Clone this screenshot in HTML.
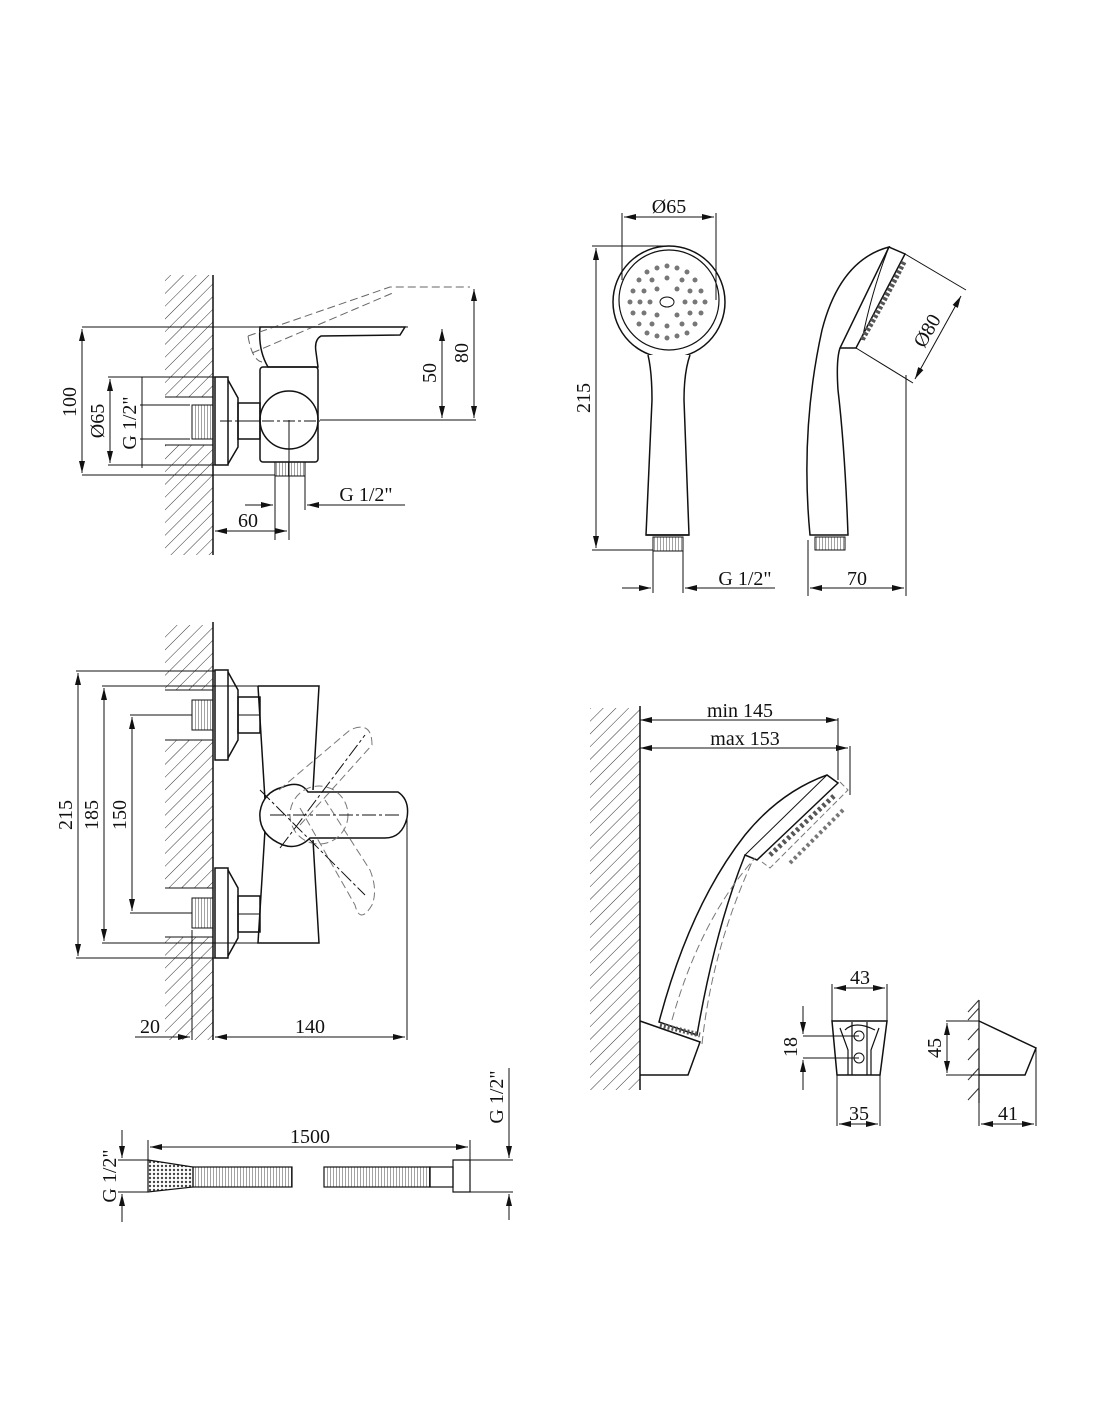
<!DOCTYPE html>
<html><head><meta charset="utf-8"><style>
html,body{margin:0;padding:0;background:#fff}
svg{display:block}
text{font-family:"Liberation Serif",serif;font-size:20px;fill:#111}
</style></head><body>
<svg width="1100" height="1422" viewBox="0 0 1100 1422" xmlns="http://www.w3.org/2000/svg">
<defs>
<pattern id="h" patternUnits="userSpaceOnUse" width="9" height="9" patternTransform="rotate(45)">
<line x1="0" y1="0" x2="0" y2="9" stroke="#333" stroke-width="1"/></pattern>
<pattern id="tv" patternUnits="userSpaceOnUse" width="3" height="3"><line x1="0" y1="0" x2="0" y2="3" stroke="#444" stroke-width="1"/></pattern>
<pattern id="dots" patternUnits="userSpaceOnUse" width="4" height="4"><circle cx="2" cy="2" r="1.2" fill="#444"/></pattern>
<marker id="a" markerWidth="12" markerHeight="6" refX="12" refY="3" orient="auto-start-reverse" markerUnits="userSpaceOnUse"><path d="M0,0 L12,3 L0,6 z" fill="#111"/></marker>
</defs>
<g stroke="#111" stroke-width="1" fill="none">

<!-- ===== TOP LEFT FAUCET ===== -->
<rect x="165" y="275" width="48" height="122" fill="url(#h)" stroke="none"/>
<rect x="165" y="445" width="48" height="110" fill="url(#h)" stroke="none"/>
<line x1="213" y1="275" x2="213" y2="555" stroke-width="1.5"/>
<line x1="165" y1="397" x2="213" y2="397"/><line x1="165" y1="445" x2="213" y2="445"/>
<rect x="192" y="405" width="21" height="34" fill="url(#tv)"/>
<rect x="215" y="377" width="13" height="88" stroke-width="1.5"/>
<path d="M228,380 L238,398 L238,447 L228,464" stroke-width="1.5"/>
<rect x="238" y="403" width="22" height="36" stroke-width="1.5"/>
<line x1="238" y1="421" x2="260" y2="421"/>
<rect x="260" y="367" width="58" height="95" rx="3" stroke-width="1.5"/>
<circle cx="289" cy="420" r="29" stroke-width="1.5"/>
<line x1="220" y1="421" x2="320" y2="421" stroke-dasharray="12,3,3,3"/>
<line x1="289" y1="420" x2="289" y2="540"/>
<path d="M260,327 L405,327 L400,335 L321,336 Q314,340 316,352 L318,367 L268,367 Q258,350 260,327 z" stroke-width="1.5"/>
<path d="M248,336 L390,287 L470,287 M252,353 L395,292 M248,336 Q252,360 262,362" stroke="#666" stroke-dasharray="8,4"/>
<rect x="275" y="462" width="30" height="14" fill="url(#tv)"/>
<line x1="275" y1="476" x2="275" y2="540"/><line x1="305" y1="476" x2="305" y2="510"/>
<line x1="82" y1="327" x2="408" y2="327"/>
<line x1="82" y1="475" x2="275" y2="475"/>
<line x1="82" y1="329" x2="82" y2="473" marker-start="url(#a)" marker-end="url(#a)"/>
<line x1="108" y1="377" x2="215" y2="377"/><line x1="108" y1="465" x2="215" y2="465"/>
<line x1="110" y1="379" x2="110" y2="463" marker-start="url(#a)" marker-end="url(#a)"/>
<line x1="140" y1="405" x2="190" y2="405"/><line x1="140" y1="439" x2="190" y2="439"/>
<line x1="142" y1="377" x2="142" y2="468"/>
<line x1="320" y1="420" x2="476" y2="420"/>
<line x1="442" y1="329" x2="442" y2="418" marker-start="url(#a)" marker-end="url(#a)"/>
<line x1="474" y1="289" x2="474" y2="418" marker-start="url(#a)" marker-end="url(#a)"/>
<line x1="215" y1="531" x2="287" y2="531" marker-start="url(#a)" marker-end="url(#a)"/>
<line x1="245" y1="505" x2="273" y2="505" marker-end="url(#a)"/>
<line x1="405" y1="505" x2="307" y2="505" marker-end="url(#a)"/>

<!-- ===== MIDDLE LEFT FAUCET ===== -->
<rect x="165" y="625" width="48" height="65" fill="url(#h)" stroke="none"/>
<rect x="165" y="740" width="48" height="148" fill="url(#h)" stroke="none"/>
<rect x="165" y="937" width="48" height="103" fill="url(#h)" stroke="none"/>
<line x1="213" y1="622" x2="213" y2="1040" stroke-width="1.5"/>
<line x1="165" y1="690" x2="213" y2="690"/><line x1="165" y1="740" x2="213" y2="740"/>
<line x1="165" y1="888" x2="213" y2="888"/><line x1="165" y1="937" x2="213" y2="937"/>
<rect x="192" y="700" width="21" height="30" fill="url(#tv)"/>
<rect x="192" y="898" width="21" height="30" fill="url(#tv)"/>
<rect x="215" y="670" width="13" height="90" stroke-width="1.5"/>
<path d="M228,672 L238,690 L238,740 L228,758" stroke-width="1.5"/>
<rect x="238" y="697" width="22" height="36" stroke-width="1.5"/><line x1="238" y1="715" x2="260" y2="715"/>
<rect x="215" y="868" width="13" height="90" stroke-width="1.5"/>
<path d="M228,870 L238,888 L238,938 L228,956" stroke-width="1.5"/>
<rect x="238" y="896" width="22" height="36" stroke-width="1.5"/><line x1="238" y1="914" x2="260" y2="914"/>
<path d="M258,686 L319,686 L313,790 M313,840 L319,943 L258,943 L265,830 M265,800 L258,686" stroke-width="1.5"/>
<path d="M283,787 Q300,780 308,792 L398,792 Q410,800 407,818 Q402,838 385,838 L310,838 Q298,850 283,845 Q258,835 260,812 Q263,792 283,787 z" stroke-width="1.5" fill="#fff"/>
<circle cx="319" cy="815" r="29" stroke="#777" stroke-dasharray="8,4"/>
<path d="M279,790 L350,730 Q372,720 372,745 L300,825 M300,808 L355,905 Q360,925 372,905 Q378,890 370,870 L325,800" stroke="#777" stroke-dasharray="8,4"/>
<line x1="270" y1="815" x2="400" y2="815" stroke-dasharray="14,3,3,3"/>
<line x1="260" y1="790" x2="365" y2="895" stroke-dasharray="14,3,3,3"/>
<line x1="280" y1="848" x2="365" y2="735" stroke-dasharray="14,3,3,3"/>
<line x1="407" y1="818" x2="407" y2="1040"/>
<line x1="76" y1="671" x2="215" y2="671"/><line x1="76" y1="958" x2="215" y2="958"/>
<line x1="78" y1="673" x2="78" y2="956" marker-start="url(#a)" marker-end="url(#a)"/>
<line x1="102" y1="686" x2="258" y2="686"/><line x1="102" y1="943" x2="258" y2="943"/>
<line x1="104" y1="688" x2="104" y2="941" marker-start="url(#a)" marker-end="url(#a)"/>
<line x1="130" y1="715" x2="192" y2="715"/><line x1="130" y1="913" x2="192" y2="913"/>
<line x1="132" y1="717" x2="132" y2="911" marker-start="url(#a)" marker-end="url(#a)"/>
<line x1="192" y1="930" x2="192" y2="1040"/>
<line x1="135" y1="1037" x2="190" y2="1037" marker-end="url(#a)"/>
<line x1="215" y1="1037" x2="405" y2="1037" marker-start="url(#a)" marker-end="url(#a)"/>

<!-- ===== HOSE ===== -->
<path d="M148,1160 L193,1167 L193,1187 L148,1192 z" fill="url(#dots)" stroke-width="1.2"/>
<rect x="193" y="1167" width="99" height="20" fill="url(#tv)" stroke-width="1.2"/>
<rect x="324" y="1167" width="106" height="20" fill="url(#tv)" stroke-width="1.2"/>
<rect x="430" y="1167" width="23" height="20" stroke-width="1.2"/>
<rect x="453" y="1160" width="17" height="32" stroke-width="1.2"/>
<line x1="148" y1="1140" x2="148" y2="1160"/><line x1="470" y1="1140" x2="470" y2="1160"/>
<line x1="150" y1="1147" x2="468" y2="1147" marker-start="url(#a)" marker-end="url(#a)"/>
<line x1="118" y1="1160" x2="148" y2="1160"/><line x1="118" y1="1192" x2="148" y2="1192"/>
<line x1="122" y1="1130" x2="122" y2="1158" marker-end="url(#a)"/><line x1="122" y1="1222" x2="122" y2="1194" marker-end="url(#a)"/>
<line x1="470" y1="1160" x2="513" y2="1160"/><line x1="470" y1="1192" x2="513" y2="1192"/>
<line x1="509" y1="1068" x2="509" y2="1158" marker-end="url(#a)"/><line x1="509" y1="1220" x2="509" y2="1194" marker-end="url(#a)"/>

<!-- ===== HAND SHOWER FRONT ===== -->
<circle cx="669" cy="302" r="56" stroke-width="1.5"/>
<circle cx="669" cy="300" r="50" stroke-width="1.2"/>
<path d="M648,355 Q652,372 652,400 L646,535 L689,535 L684,400 Q684,372 690,355" stroke-width="1.5" fill="#fff"/>
<line x1="646" y1="535" x2="689" y2="535" stroke-width="1.5"/>
<rect x="653" y="537" width="30" height="14" fill="url(#tv)"/>
<ellipse cx="667" cy="302" rx="7" ry="5"/>
<g fill="#777" stroke="none">
<circle cx="667" cy="266" r="2.5"/><circle cx="657" cy="268" r="2.5"/><circle cx="677" cy="268" r="2.5"/><circle cx="647" cy="272" r="2.5"/><circle cx="687" cy="272" r="2.5"/>
<circle cx="639" cy="280" r="2.5"/><circle cx="695" cy="280" r="2.5"/><circle cx="652" cy="280" r="2.5"/><circle cx="682" cy="280" r="2.5"/><circle cx="667" cy="278" r="2.5"/>
<circle cx="633" cy="291" r="2.5"/><circle cx="701" cy="291" r="2.5"/><circle cx="644" cy="291" r="2.5"/><circle cx="690" cy="291" r="2.5"/><circle cx="657" cy="289" r="2.5"/><circle cx="677" cy="289" r="2.5"/>
<circle cx="630" cy="302" r="2.5"/><circle cx="640" cy="302" r="2.5"/><circle cx="650" cy="302" r="2.5"/><circle cx="685" cy="302" r="2.5"/><circle cx="695" cy="302" r="2.5"/><circle cx="705" cy="302" r="2.5"/>
<circle cx="633" cy="313" r="2.5"/><circle cx="701" cy="313" r="2.5"/><circle cx="644" cy="313" r="2.5"/><circle cx="690" cy="313" r="2.5"/><circle cx="657" cy="315" r="2.5"/><circle cx="677" cy="315" r="2.5"/>
<circle cx="639" cy="324" r="2.5"/><circle cx="695" cy="324" r="2.5"/><circle cx="652" cy="324" r="2.5"/><circle cx="682" cy="324" r="2.5"/><circle cx="667" cy="326" r="2.5"/>
<circle cx="647" cy="333" r="2.5"/><circle cx="687" cy="333" r="2.5"/><circle cx="657" cy="336" r="2.5"/><circle cx="677" cy="336" r="2.5"/><circle cx="667" cy="338" r="2.5"/>
</g>
<line x1="622" y1="213" x2="622" y2="280"/><line x1="716" y1="213" x2="716" y2="300"/>
<line x1="624" y1="217" x2="714" y2="217" marker-start="url(#a)" marker-end="url(#a)"/>
<line x1="592" y1="246" x2="669" y2="246"/><line x1="592" y1="550" x2="653" y2="550"/>
<line x1="596" y1="248" x2="596" y2="548" marker-start="url(#a)" marker-end="url(#a)"/>
<line x1="653" y1="551" x2="653" y2="593"/><line x1="683" y1="551" x2="683" y2="593"/>
<line x1="622" y1="588" x2="651" y2="588" marker-end="url(#a)"/>
<line x1="775" y1="588" x2="685" y2="588" marker-end="url(#a)"/>

<!-- ===== HAND SHOWER SIDE ===== -->
<path d="M889,247 Q840,260 822,330 Q800,430 810,535 L848,535 Q845,450 838,390 Q836,360 840,348 Z" stroke-width="1.5" fill="#fff"/>
<path d="M889,247 L905,254 L856,348 L840,348" stroke-width="1.5"/>
<path d="M889,247 Q872,290 862,340" stroke-width="1"/>
<path d="M904,262 Q885,300 862,340" stroke="#555" stroke-width="5" stroke-dasharray="3,2"/>
<rect x="815" y="537" width="30" height="13" fill="url(#tv)"/>
<line x1="905" y1="254" x2="966" y2="290"/><line x1="856" y1="348" x2="913" y2="383"/>
<line x1="961" y1="296" x2="915" y2="379" marker-start="url(#a)" marker-end="url(#a)"/>
<line x1="808" y1="540" x2="808" y2="596"/><line x1="906" y1="375" x2="906" y2="596"/>
<line x1="810" y1="588" x2="904" y2="588" marker-start="url(#a)" marker-end="url(#a)"/>

<!-- ===== WALL MOUNTED SHOWER ===== -->
<rect x="590" y="708" width="50" height="382" fill="url(#h)" stroke="none"/>
<line x1="640" y1="706" x2="640" y2="1090" stroke-width="1.5"/>
<path d="M640,1021 L700,1042 L688,1075 L640,1075" stroke-width="1.5"/>
<path d="M659,1022 Q690,905 745,835 Q780,792 827,775 L838,783 L757,860 L745,855 Q715,930 697,1035 Z" stroke-width="1.5" fill="#fff"/>
<line x1="745" y1="855" x2="827" y2="775" stroke-width="1"/>
<path d="M660,1025 L700,1035" stroke="#555" stroke-width="5" stroke-dasharray="2,2"/>
<path d="M770,855 L835,795" stroke="#555" stroke-width="5" stroke-dasharray="3,3"/>
<path d="M790,863 L845,808" stroke="#777" stroke-width="4" stroke-dasharray="3,3"/>
<path d="M840,782 L848,790 L770,868 L762,862" stroke="#777" stroke-dasharray="6,3"/>
<path d="M672,1020 Q700,920 755,858 M702,1044 Q712,950 752,862" stroke="#777" stroke-dasharray="8,4"/>
<line x1="640" y1="720" x2="838" y2="720" marker-start="url(#a)" marker-end="url(#a)"/>
<line x1="640" y1="748" x2="848" y2="748" marker-start="url(#a)" marker-end="url(#a)"/>
<line x1="838" y1="718" x2="838" y2="780"/><line x1="850" y1="746" x2="850" y2="795"/>

<!-- holder front -->
<path d="M832,1021 L887,1021 L880,1075 L837,1075 Z" stroke-width="1.5"/>
<path d="M840,1028 L848,1050 L848,1075 M879,1028 L871,1050 L871,1075 M852,1022 L852,1075 M867,1022 L867,1075 M845,1030 Q855,1020 875,1030" stroke-width="1.2"/>
<circle cx="859" cy="1036" r="5"/><circle cx="859" cy="1058" r="5"/>
<line x1="832" y1="984" x2="832" y2="1021"/><line x1="887" y1="984" x2="887" y2="1021"/>
<line x1="834" y1="988" x2="885" y2="988" marker-start="url(#a)" marker-end="url(#a)"/>
<line x1="803" y1="1036" x2="859" y2="1036"/><line x1="803" y1="1058" x2="859" y2="1058"/>
<line x1="803" y1="1006" x2="803" y2="1034" marker-end="url(#a)"/><line x1="803" y1="1090" x2="803" y2="1060" marker-end="url(#a)"/>
<line x1="837" y1="1075" x2="837" y2="1126"/><line x1="880" y1="1075" x2="880" y2="1126"/>
<line x1="839" y1="1124" x2="878" y2="1124" marker-start="url(#a)" marker-end="url(#a)"/>

<!-- holder side -->
<line x1="979" y1="1000" x2="979" y2="1103" stroke-width="1.2"/>
<path d="M968,1020 L979,1008 M968,1040 L979,1028 M968,1060 L979,1048 M968,1080 L979,1068 M968,1100 L979,1088 M968,1012 L979,1000" stroke="#333"/>
<path d="M979,1021 L1036,1048 L1025,1075 L979,1075" stroke-width="1.5"/>
<line x1="946" y1="1021" x2="979" y2="1021"/><line x1="946" y1="1075" x2="979" y2="1075"/>
<line x1="947" y1="1023" x2="947" y2="1073" marker-start="url(#a)" marker-end="url(#a)"/>
<line x1="1036" y1="1048" x2="1036" y2="1126"/><line x1="979" y1="1103" x2="979" y2="1126"/>
<line x1="981" y1="1124" x2="1034" y2="1124" marker-start="url(#a)" marker-end="url(#a)"/>
</g>

<g>
<text transform="translate(82,402) rotate(-90)" text-anchor="middle" dy="-6">100</text>
<text transform="translate(110,421) rotate(-90)" text-anchor="middle" dy="-6">Ø65</text>
<text transform="translate(142,423) rotate(-90)" text-anchor="middle" dy="-6">G 1/2"</text>
<text transform="translate(442,373) rotate(-90)" text-anchor="middle" dy="-6">50</text>
<text transform="translate(474,353) rotate(-90)" text-anchor="middle" dy="-6">80</text>
<text x="248" y="527" text-anchor="middle">60</text>
<text x="366" y="501" text-anchor="middle">G 1/2"</text>
<text transform="translate(78,815) rotate(-90)" text-anchor="middle" dy="-6">215</text>
<text transform="translate(104,815) rotate(-90)" text-anchor="middle" dy="-6">185</text>
<text transform="translate(132,815) rotate(-90)" text-anchor="middle" dy="-6">150</text>
<text x="150" y="1033" text-anchor="middle">20</text>
<text x="310" y="1033" text-anchor="middle">140</text>
<text x="310" y="1143" text-anchor="middle">1500</text>
<text transform="translate(122,1176) rotate(-90)" text-anchor="middle" dy="-6">G 1/2"</text>
<text transform="translate(509,1097) rotate(-90)" text-anchor="middle" dy="-6">G 1/2"</text>
<text x="669" y="213" text-anchor="middle">Ø65</text>
<text transform="translate(596,398) rotate(-90)" text-anchor="middle" dy="-6">215</text>
<text x="745" y="585" text-anchor="middle">G 1/2"</text>
<text x="857" y="585" text-anchor="middle">70</text>
<text transform="translate(938,337) rotate(-60)" text-anchor="middle" dy="-6">Ø80</text>
<text x="740" y="717" text-anchor="middle">min 145</text>
<text x="745" y="745" text-anchor="middle">max 153</text>
<text x="860" y="984" text-anchor="middle">43</text>
<text transform="translate(803,1047) rotate(-90)" text-anchor="middle" dy="-6">18</text>
<text x="859" y="1120" text-anchor="middle">35</text>
<text transform="translate(947,1048) rotate(-90)" text-anchor="middle" dy="-6">45</text>
<text x="1008" y="1120" text-anchor="middle">41</text>
</g>
</svg>
</body></html>
